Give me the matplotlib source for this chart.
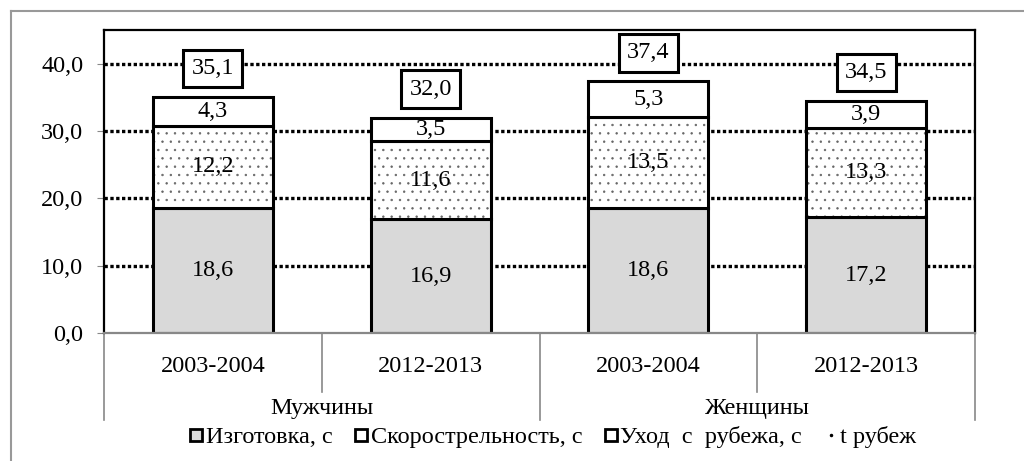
import matplotlib
matplotlib.use('Agg')
import matplotlib.pyplot as plt
from matplotlib.lines import Line2D
import numpy as np

plt.rcParams['font.family'] = ['Liberation Serif', 'DejaVu Serif']
plt.rcParams['hatch.linewidth'] = 0.5

# данные
years = ['2003-2004', '2012-2013', '2003-2004', '2012-2013']
groups = ['Мужчины', 'Женщины']
izgotovka = [18.6, 16.9, 18.6, 17.2]
skorostr = [12.2, 11.6, 13.5, 13.3]
uhod = [4.3, 3.5, 5.3, 3.9]
t_rubezh = [35.1, 32.0, 37.4, 34.5]

labels_legend = ['Изготовка, с', 'Скорострельность, с', 'Уход  с  рубежа, с', 't рубеж']


def fmt(v):
    return f'{v:.1f}'.replace('.', ',')


fig = plt.figure(figsize=(10.24, 4.61), dpi=100)
ax = fig.add_axes([104 / 1024, 1 - 333 / 461, (975 - 104) / 1024, (333 - 30) / 461])

x = np.arange(len(years))
w = 0.55
fs = 17.5

# сетка
for v in [10, 20, 30, 40]:
    ax.axhline(v, color='black', lw=2.4, ls=(0, (1, 0.75)), zorder=0)

ax.bar(x, izgotovka, w, color='#d9d9d9', edgecolor='black', lw=2.2, zorder=2)
# точечная штриховка серым, контур отдельно
ax.bar(x, skorostr, w, bottom=izgotovka, color='white', edgecolor='#666666',
       lw=0, hatch='..', zorder=2)
ax.bar(x, skorostr, w, bottom=izgotovka, fill=False, edgecolor='black', lw=2.2, zorder=3)
bot3 = [a + b for a, b in zip(izgotovka, skorostr)]
ax.bar(x, uhod, w, bottom=bot3, color='white', edgecolor='black', lw=2.2, zorder=3)

for i in range(len(x)):
    ax.text(x[i], izgotovka[i] / 2, fmt(izgotovka[i]), ha='center', va='center',
            fontsize=fs, zorder=5)
    ax.text(x[i], izgotovka[i] + skorostr[i] / 2, fmt(skorostr[i]), ha='center',
            va='center', fontsize=fs, zorder=5)
    ax.text(x[i], bot3[i] + uhod[i] / 2, fmt(uhod[i]), ha='center', va='center',
            fontsize=fs, zorder=5)
    ax.text(x[i], t_rubezh[i] + 4.2, fmt(t_rubezh[i]), ha='center', va='center',
            fontsize=fs, zorder=5,
            bbox=dict(boxstyle='square,pad=0.34', fc='white', ec='black', lw=2.2))

ax.set_xlim(-0.5, 3.5)
ax.set_ylim(0, 45)
ax.set_yticks([0, 10, 20, 30, 40])
ax.set_yticklabels([fmt(v) for v in [0, 10, 20, 30, 40]], fontsize=fs)
ax.tick_params(axis='y', length=5, color='#888888', pad=10)
ax.set_xticks([])

for s in ['top', 'right', 'left']:
    ax.spines[s].set_color('black')
    ax.spines[s].set_linewidth(1.6)
ax.spines['bottom'].set_color('#888888')
ax.spines['bottom'].set_linewidth(1.6)

# подписи категорий
trans = ax.get_xaxis_transform()
for i, yl in enumerate(years):
    ax.text(x[i], -0.11, yl, transform=trans, ha='center', va='center', fontsize=fs)
for j, g in enumerate(groups):
    ax.text(2 * j + 0.5, -0.25, g, transform=trans, ha='center', va='center', fontsize=fs)

for xs in [-0.5, 1.5, 3.5]:
    ax.plot([xs, xs], [0, -0.287], transform=trans, color='#888888', lw=1.2, clip_on=False)
for xs in [0.5, 2.5]:
    ax.plot([xs, xs], [0, -0.195], transform=trans, color='#888888', lw=1.2, clip_on=False)

# легенда
handles = [
    Line2D([], [], ls='none', marker='s', ms=8, mfc='#d9d9d9', mec='black', mew=2),
    Line2D([], [], ls='none', marker='s', ms=8, mfc='white', mec='black', mew=2),
    Line2D([], [], ls='none', marker='s', ms=8, mfc='white', mec='black', mew=2),
    Line2D([], [], ls='none', marker='.', ms=3, color='black'),
]
fig.legend(handles, labels_legend, loc='center', bbox_to_anchor=(553 / 1024, 1 - 437 / 461),
           ncol=4, frameon=False, fontsize=fs, handlelength=0.55, handletextpad=0.12,
           columnspacing=0.9, borderaxespad=0)

# рамка диаграммы
fig.add_artist(Line2D([11 / 1024, 11 / 1024], [0, 1 - 11 / 461], color='#999999', lw=1.5))
fig.add_artist(Line2D([11 / 1024, 1], [1 - 11 / 461, 1 - 11 / 461], color='#999999', lw=1.5))

fig.savefig('out.png', dpi=100)
